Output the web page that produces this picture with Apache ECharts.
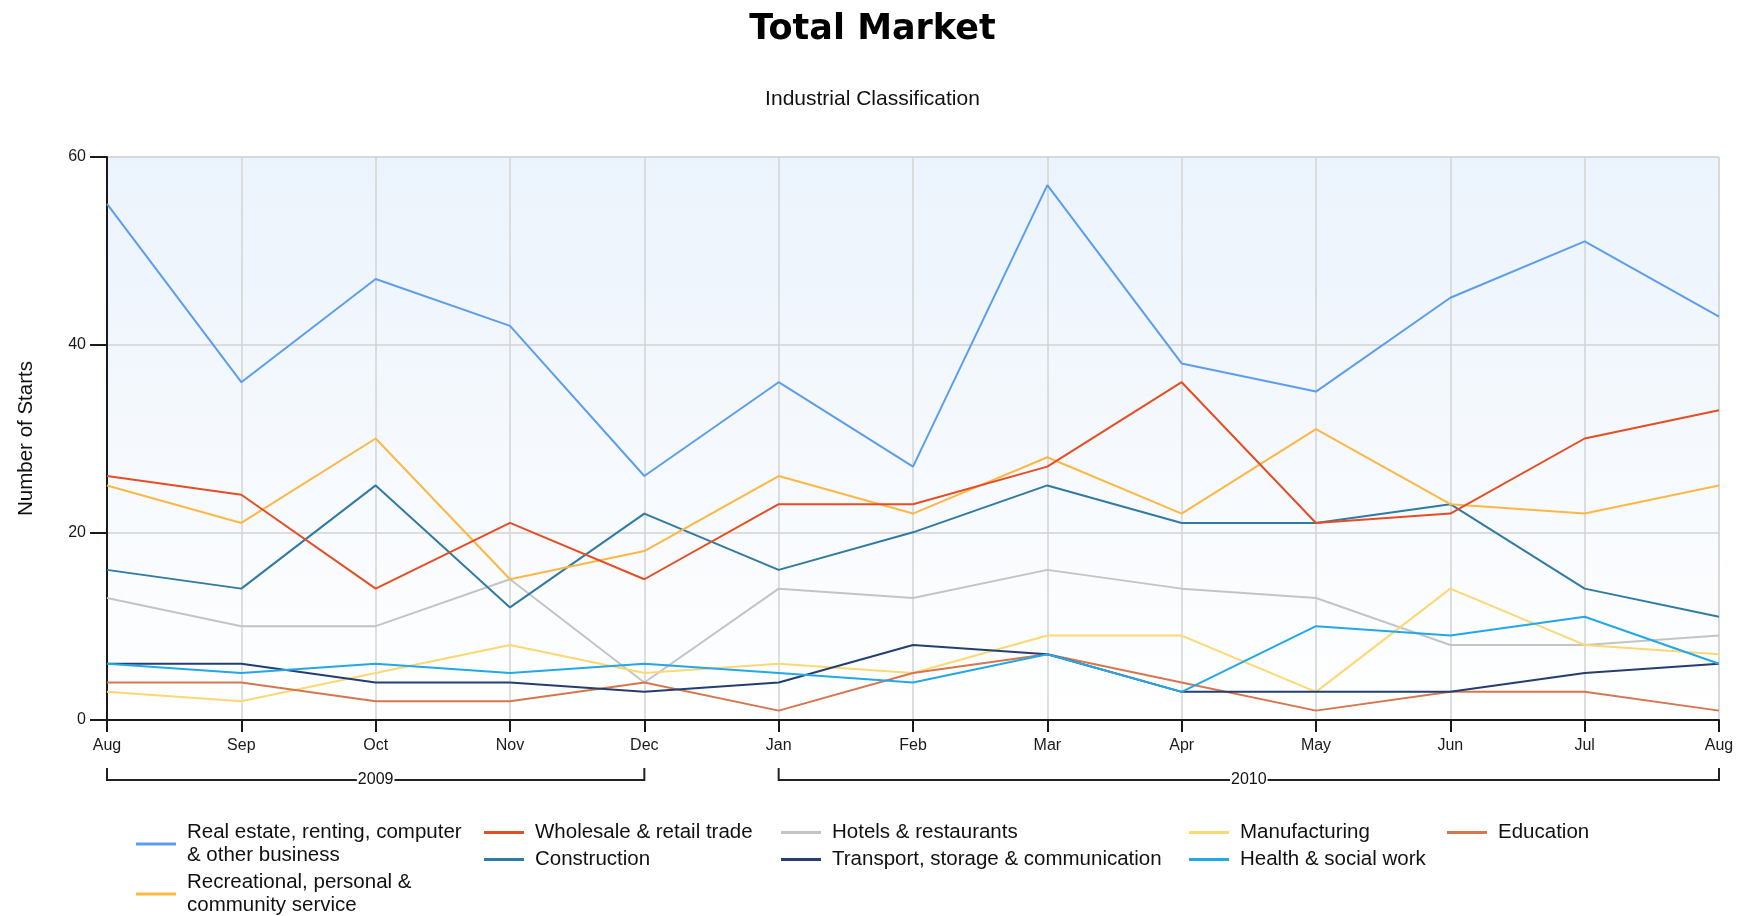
<!DOCTYPE html>
<html>
<head>
<meta charset="utf-8">
<title>Total Market</title>
<script src="https://cdn.jsdelivr.net/npm/echarts@6/dist/echarts.min.js"></script>
<style>
  html, body { margin: 0; padding: 0; background: #ffffff; }
  #chart { width: 1745px; height: 916px; }
</style>
</head>
<body>
<div id="chart"></div>
<script>
// Monthly starts by industrial classification, Aug 2009 - Aug 2010
const months = ['Aug', 'Sep', 'Oct', 'Nov', 'Dec', 'Jan', 'Feb', 'Mar', 'Apr', 'May', 'Jun', 'Jul', 'Aug'];
const yearGroups = [
  { label: '2009', from: 0, to: 4 },
  { label: '2010', from: 5, to: 12 }
];
const yTicks = [0, 20, 40, 60];

const realEstate    = [55, 36, 47, 42, 26, 36, 27, 57, 38, 35, 45, 51, 43];
const wholesale     = [26, 24, 14, 21, 15, 23, 23, 27, 36, 21, 22, 30, 33];
const hotels        = [13, 10, 10, 15, 4, 14, 13, 16, 14, 13, 8, 8, 9];
const manufacturing = [3, 2, 5, 8, 5, 6, 5, 9, 9, 3, 14, 8, 7];
const education     = [4, 4, 2, 2, 4, 1, 5, 7, 4, 1, 3, 3, 1];
const recreational  = [25, 21, 30, 15, 18, 26, 22, 28, 22, 31, 23, 22, 25];
const construction  = [16, 14, 25, 12, 22, 16, 20, 25, 21, 21, 23, 14, 11];
const transport     = [6, 6, 4, 4, 3, 4, 8, 7, 3, 3, 3, 5, 6];
const health        = [6, 5, 6, 5, 6, 5, 4, 7, 3, 10, 9, 11, 6];

const N_REAL = 'Real estate, renting, computer\n& other business';
const N_WHOLE = 'Wholesale & retail trade';
const N_HOTEL = 'Hotels & restaurants';
const N_MANU = 'Manufacturing';
const N_EDU = 'Education';
const N_REC = 'Recreational, personal &\ncommunity service';
const N_CONS = 'Construction';
const N_TRANS = 'Transport, storage & communication';
const N_HEALTH = 'Health & social work';

const seriesDefs = [
  { name: N_HOTEL, data: hotels, color: '#c4c4c4' },
  { name: N_MANU, data: manufacturing, color: '#fcd873' },
  { name: N_EDU, data: education, color: '#d6764f' },
  { name: N_TRANS, data: transport, color: '#253e70' },
  { name: N_HEALTH, data: health, color: '#22a8e6' },
  { name: N_CONS, data: construction, color: '#307aa3' },
  { name: N_REC, data: recreational, color: '#fdb745' },
  { name: N_WHOLE, data: wholesale, color: '#e54d24' },
  { name: N_REAL, data: realEstate, color: '#5c9df0' }
];

const FONT = '"Liberation Sans", Arial, sans-serif';
const legendText = { fontFamily: FONT, fontSize: 20.5, color: '#111', lineHeight: 23, padding: [0, 0, 0, 6] };

// One legend per column so the entries sit in a fixed grid
function legendColumn(left, names) {
  return {
    orient: 'vertical', left: left, top: 821, height: 120, padding: 0, itemGap: 4,
    itemWidth: 40, itemHeight: 3, icon: 'rect',
    textStyle: legendText, selectedMode: false,
    data: names
  };
}

const chart = echarts.init(document.getElementById('chart'), null, { renderer: 'canvas' });

const option = {
  animation: false,
  backgroundColor: '#ffffff',
  title: [
    {
      text: 'Total Market', left: 'center', top: 7,
      textStyle: { fontFamily: '"DejaVu Sans", Verdana, sans-serif', fontWeight: 'bold', fontSize: 35, color: '#000' }
    },
    {
      text: 'Industrial Classification', left: 'center', top: 84,
      textStyle: { fontFamily: FONT, fontWeight: 'normal', fontSize: 21, color: '#111' }
    }
  ],
  legend: [
    legendColumn(136, [N_REAL, N_REC]),
    legendColumn(484, [N_WHOLE, N_CONS]),
    legendColumn(781, [N_HOTEL, N_TRANS]),
    legendColumn(1189, [N_MANU, N_HEALTH]),
    legendColumn(1447, [N_EDU])
  ],
  grid: {
    left: 107, right: 26, top: 157, bottom: 196,
    show: true, borderColor: '#d3d3d3', borderWidth: 1,
    backgroundColor: new echarts.graphic.LinearGradient(0, 0, 0, 1, [
      { offset: 0, color: '#ebf3fc' },
      { offset: 1, color: '#ffffff' }
    ])
  },
  xAxis: {
    type: 'category', data: months, boundaryGap: false,
    axisLine: { lineStyle: { color: '#1a1a1a', width: 2 } },
    axisTick: { show: true, length: 12, alignWithLabel: true, lineStyle: { color: '#1a1a1a', width: 2 } },
    axisLabel: { fontFamily: FONT, fontSize: 16, color: '#1a1a1a', margin: 18, interval: 0 },
    splitLine: { show: true, lineStyle: { color: '#d3d3d3', width: 1.5 } }
  },
  yAxis: {
    type: 'value', min: yTicks[0], max: yTicks[yTicks.length - 1], interval: 20,
    name: 'Number of Starts', nameLocation: 'middle', nameGap: 70, nameRotate: 90,
    nameTextStyle: { fontFamily: FONT, fontSize: 20.5, color: '#111' },
    axisLine: { show: true, lineStyle: { color: '#1a1a1a', width: 2 } },
    axisTick: { show: true, length: 17, lineStyle: { color: '#1a1a1a', width: 2 } },
    axisLabel: { fontFamily: FONT, fontSize: 16, color: '#1a1a1a', margin: 21 },
    splitLine: { show: true, lineStyle: { color: '#d3d3d3', width: 1.5 } }
  },
  series: seriesDefs.map(s => ({
    name: s.name, type: 'line', data: s.data,
    symbol: 'none', color: s.color,
    lineStyle: { color: s.color, width: 2 },
    emphasis: { disabled: true }
  }))
};

chart.setOption(option);

// Year brackets beneath the month labels, placed from the category axis
function yearBrackets() {
  const y0 = 768, y1 = 780;
  const els = [];
  yearGroups.forEach(g => {
    const xa = chart.convertToPixel({ xAxisIndex: 0 }, g.from);
    const xb = chart.convertToPixel({ xAxisIndex: 0 }, g.to);
    els.push({
      type: 'polyline', silent: true,
      shape: { points: [[xa, y0], [xa, y1], [xb, y1], [xb, y0]] },
      style: { stroke: '#222', lineWidth: 2, fill: null }
    });
    els.push({
      type: 'text', silent: true, x: (xa + xb) / 2, y: y1,
      style: {
        text: g.label, fontFamily: FONT, fontSize: 16, fill: '#111',
        align: 'center', verticalAlign: 'middle',
        backgroundColor: '#ffffff', padding: [0, 1]
      }
    });
  });
  return els;
}
chart.setOption({ graphic: yearBrackets() });
</script>
</body>
</html>
